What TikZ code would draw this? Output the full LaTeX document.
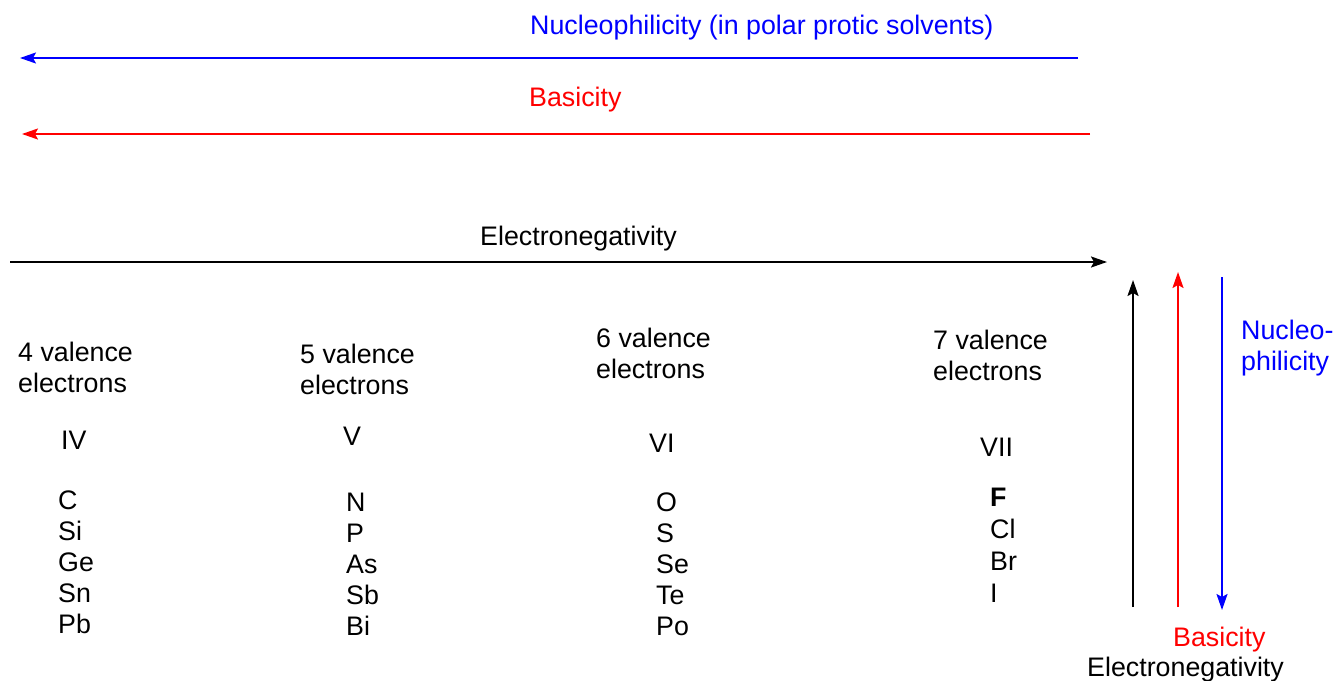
\documentclass[tikz,border=0pt]{standalone}
\usepackage{fontspec}
\setmainfont{Liberation Sans}
\usetikzlibrary{arrows.meta}
\definecolor{pblue}{RGB}{0,0,255}
\definecolor{pred}{RGB}{255,0,0}
\begin{document}
\begin{tikzpicture}[x=1pt,y=-1pt,
  lbl/.style={inner sep=0pt,font=\fontsize{26.8}{31}\selectfont,align=left},
  arr/.style={line width=2pt,-{Stealth[length=16pt,width=11pt,inset=3pt]}}]
\useasboundingbox (0,0) rectangle (1337,680);
% top arrows
\node[lbl,anchor=base west,text=pblue] (nuc) at (530,34) {Nucleophilicity (in polar protic solvents)};
\coordinate (b1) at (1078,58); \coordinate (b2) at (20,58);
\draw[arr,pblue] (b1) -- (b2);
\node[lbl,anchor=base west,text=pred] (bas) at (529,106) {Basicity};
\coordinate (r1) at (1090,134); \coordinate (r2) at (22,134);
\draw[arr,pred] (r1) -- (r2);
\node[lbl,anchor=base west] (en) at (480,245) {Electronegativity};
\coordinate (k1) at (10,262); \coordinate (k2) at (1107,262);
\draw[arr] (k1) -- (k2);
% columns
\node[lbl,anchor=west] (v4) at (18,367) {4 valence\\electrons};
\node[lbl,anchor=west] (v5) at (300,369) {5 valence\\electrons};
\node[lbl,anchor=west] (v6) at (596,353) {6 valence\\electrons};
\node[lbl,anchor=west] (v7) at (933,355) {7 valence\\electrons};
\node[lbl,anchor=base west] (g4) at (61,449) {IV};
\node[lbl,anchor=base west] (g5) at (343,445) {V};
\node[lbl,anchor=base west] (g6) at (649,452) {VI};
\node[lbl,anchor=base west] (g7) at (980,456) {VII};
\node[lbl,anchor=west] (e4) at (58,562) {C\\Si\\Ge\\Sn\\Pb};
\node[lbl,anchor=west] (e5) at (346,564) {N\\P\\As\\Sb\\Bi};
\node[lbl,anchor=west] (e6) at (656,564) {O\\S\\Se\\Te\\Po};
\node[lbl,anchor=west,font=\fontsize{26.8}{32}\selectfont] (e7) at (990,545) {\textbf{F}\\Cl\\Br\\I};
% vertical arrows
\coordinate (vk1) at (1133,607); \coordinate (vk2) at (1133,280);
\draw[arr] (vk1) -- (vk2);
\coordinate (vr1) at (1178,607); \coordinate (vr2) at (1178,272);
\draw[arr,pred] (vr1) -- (vr2);
\coordinate (vb1) at (1222,277); \coordinate (vb2) at (1222,610);
\draw[arr,pblue] (vb1) -- (vb2);
\node[lbl,anchor=west,text=pblue] (nuc2) at (1241,348) {Nucleo-\\philicity};
\node[lbl,anchor=base west,text=pred] (bas2) at (1173,646) {Basicity};
\node[lbl,anchor=base west] (en2) at (1087,676) {Electronegativity};
\end{tikzpicture}
\end{document}
